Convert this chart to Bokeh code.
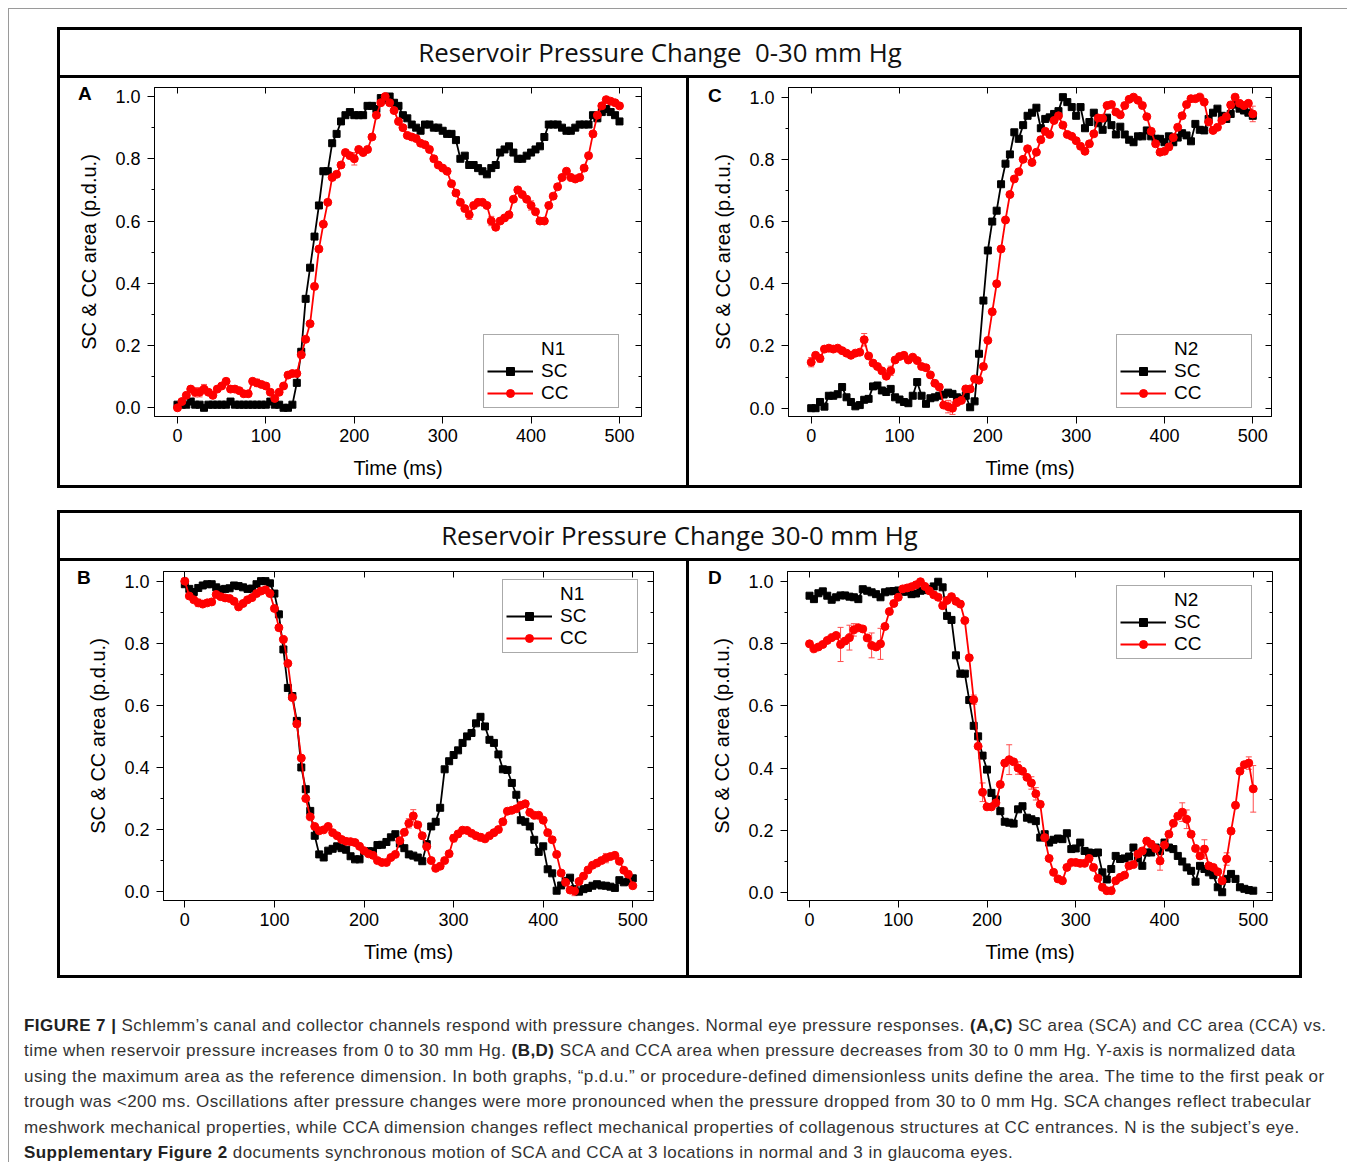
from bokeh.plotting import figure
from bokeh.models import (Range1d, LinearAxis, FixedTicker, PrintfTickFormatter, Legend,
                          LegendItem, Whisker, TeeHead, ColumnDataSource, Div, Spacer)
from bokeh.layouts import row, column
from bokeh.embed import file_html
from bokeh.resources import INLINE

# ---------------- data ----------------
time_ms = list(range(0, 505, 5))
x_ticks = [0, 100, 200, 300, 400, 500]
y_ticks = [0.0, 0.2, 0.4, 0.6, 0.8, 1.0]
y_minor_ticks = [0.1, 0.3, 0.5, 0.7, 0.9]

# Panel A (0-30 mm Hg, N1)
sc_a = [0.01, 0.01, 0.01, 0.02, 0.01, 0.01, 0.0, 0.01, 0.01, 0.01, 0.01, 0.01,
        0.02, 0.01, 0.01, 0.01, 0.01, 0.01, 0.01, 0.01, 0.01, 0.02, 0.01, 0.01, 0.0, 0.0,
        0.01, 0.08, 0.18, 0.35, 0.45, 0.55, 0.65, 0.76, 0.76, 0.85, 0.88, 0.92, 0.94, 0.95,
        0.94, 0.94, 0.94, 0.97, 0.97, 0.96, 0.995, 0.99, 1.0, 0.98, 0.97, 0.94, 0.93, 0.91,
        0.90, 0.89, 0.91, 0.91, 0.90, 0.90, 0.89, 0.88, 0.88, 0.86, 0.80, 0.81, 0.78, 0.78,
        0.77, 0.76, 0.75, 0.77, 0.78, 0.82, 0.83, 0.84, 0.82, 0.80, 0.80, 0.81, 0.82, 0.83,
        0.84, 0.87, 0.91, 0.91, 0.91, 0.90, 0.89, 0.89, 0.90, 0.91, 0.91, 0.91, 0.94, 0.93,
        0.95, 0.96, 0.95, 0.94, 0.92]
cc_a = [0.0, 0.02, 0.04, 0.06, 0.05, 0.05, 0.06, 0.05, 0.04, 0.06, 0.07, 0.085, 0.06,
        0.06, 0.055, 0.045, 0.045, 0.085, 0.08, 0.075, 0.07, 0.05, 0.03, 0.05, 0.07, 0.105,
        0.11, 0.11, 0.17, 0.22, 0.27, 0.39, 0.51, 0.59, 0.66, 0.74, 0.75, 0.78, 0.82, 0.81,
        0.80, 0.83, 0.82, 0.83, 0.87, 0.94, 0.98, 1.0, 0.98, 0.955, 0.92, 0.90, 0.875, 0.87,
        0.865, 0.85, 0.845, 0.83, 0.80, 0.78, 0.77, 0.76, 0.72, 0.69, 0.66, 0.64, 0.62, 0.65,
        0.66, 0.66, 0.65, 0.60, 0.58, 0.60, 0.61, 0.62, 0.67, 0.70, 0.685, 0.67, 0.65, 0.63,
        0.60, 0.60, 0.65, 0.68, 0.71, 0.74, 0.76, 0.74, 0.735, 0.74, 0.77, 0.81, 0.88, 0.94,
        0.97, 0.99, 0.985, 0.98, 0.97]
cc_a_err = {20: 0.015, 25: 0.015, 30: 0.015, 90: 0.012, 200: 0.02, 330: 0.015, 355: 0.015,
            400: 0.015}

# Panel C (0-30 mm Hg, N2)
sc_c = [0.0, 0.0, 0.02, 0.005, 0.04, 0.04, 0.045, 0.068, 0.035, 0.02, 0.006, 0.01, 0.027,
        0.03, 0.07, 0.073, 0.057, 0.052, 0.062, 0.035, 0.028, 0.02, 0.016, 0.04, 0.084, 0.04,
        0.014, 0.032, 0.035, 0.04, 0.044, 0.05, 0.046, 0.035, 0.03, 0.04, 0.003, 0.022, 0.175,
        0.346, 0.507, 0.60, 0.635, 0.72, 0.786, 0.816, 0.887, 0.866, 0.91, 0.94, 0.95, 0.966,
        0.90, 0.93, 0.935, 0.946, 0.955, 1.0, 0.984, 0.968, 0.94, 0.968, 0.90, 0.92, 0.95,
        0.916, 0.895, 0.934, 0.91, 0.88, 0.905, 0.88, 0.863, 0.855, 0.874, 0.874, 0.893,
        0.874, 0.866, 0.866, 0.855, 0.874, 0.855, 0.87, 0.884, 0.877, 0.858, 0.914, 0.895,
        0.893, 0.93, 0.95, 0.963, 0.94, 0.93, 0.946, 0.976, 0.963, 0.957, 0.95, 0.94]
cc_c = [0.148, 0.17, 0.16, 0.19, 0.193, 0.19, 0.193, 0.185, 0.177, 0.17, 0.177, 0.18, 0.22,
        0.168, 0.145, 0.134, 0.12, 0.103, 0.12, 0.155, 0.166, 0.17, 0.155, 0.164, 0.153,
        0.134, 0.13, 0.107, 0.08, 0.068, 0.01, 0.005, 0.0, 0.018, 0.025, 0.062, 0.062, 0.094,
        0.09, 0.134, 0.218, 0.31, 0.40, 0.512, 0.605, 0.687, 0.737, 0.76, 0.80, 0.834, 0.79,
        0.823, 0.863, 0.89, 0.88, 0.925, 0.94, 0.91, 0.88, 0.874, 0.86, 0.842, 0.826, 0.85,
        0.882, 0.933, 0.932, 0.973, 0.976, 0.952, 0.943, 0.973, 0.993, 1.0, 0.99, 0.973,
        0.937, 0.89, 0.85, 0.823, 0.826, 0.84, 0.87, 0.903, 0.94, 0.976, 0.995, 0.995, 1.0,
        0.984, 0.92, 0.893, 0.903, 0.925, 0.937, 0.975, 1.0, 0.98, 0.973, 0.98, 0.946]
cc_c_err = {0: 0.015, 10: 0.012, 60: 0.02, 90: 0.015, 155: 0.02, 160: 0.02, 500: 0.025}

# Panel B (30-0 mm Hg, N1)
sc_b = [0.99, 0.975, 0.965, 0.978, 0.986, 0.99, 0.99, 0.98, 0.973, 0.975, 0.977, 0.986,
        0.984, 0.98, 0.975, 0.976, 0.99, 1.0, 1.0, 0.993, 0.96, 0.893, 0.78, 0.656, 0.63,
        0.55, 0.40, 0.33, 0.26, 0.18, 0.12, 0.11, 0.132, 0.138, 0.146, 0.14, 0.135, 0.114,
        0.104, 0.104, 0.13, 0.13, 0.13, 0.15, 0.151, 0.16, 0.175, 0.185, 0.155, 0.14, 0.12,
        0.116, 0.11, 0.098, 0.153, 0.21, 0.225, 0.27, 0.394, 0.42, 0.44, 0.455, 0.479, 0.50,
        0.511, 0.542, 0.563, 0.532, 0.489, 0.479, 0.442, 0.394, 0.392, 0.35, 0.312, 0.23,
        0.225, 0.21, 0.167, 0.128, 0.146, 0.072, 0.059, 0.003, 0.02, 0.035, 0.045, 0.008,
        0.0, 0.008, 0.012, 0.019, 0.024, 0.02, 0.019, 0.016, 0.012, 0.037, 0.03, 0.033, 0.043]
cc_b = [1.0, 0.952, 0.94, 0.93, 0.926, 0.93, 0.933, 0.957, 0.95, 0.946, 0.944, 0.935,
        0.917, 0.928, 0.94, 0.947, 0.96, 0.968, 0.972, 0.96, 0.912, 0.85, 0.812, 0.735,
        0.625, 0.54, 0.43, 0.30, 0.241, 0.21, 0.196, 0.199, 0.21, 0.19, 0.18, 0.168, 0.162,
        0.161, 0.158, 0.146, 0.132, 0.122, 0.117, 0.10, 0.094, 0.094, 0.11, 0.12, 0.164,
        0.191, 0.22, 0.244, 0.215, 0.18, 0.145, 0.10, 0.075, 0.082, 0.10, 0.122, 0.172,
        0.186, 0.198, 0.197, 0.188, 0.18, 0.175, 0.17, 0.18, 0.19, 0.20, 0.225, 0.259, 0.262,
        0.267, 0.278, 0.283, 0.255, 0.246, 0.246, 0.23, 0.19, 0.167, 0.12, 0.06, 0.03, 0.005,
        0.002, 0.033, 0.05, 0.07, 0.085, 0.092, 0.10, 0.108, 0.113, 0.117, 0.098, 0.069,
        0.056, 0.019]
cc_b_err = {15: 0.012, 250: 0.015, 255: 0.02, 300: 0.012, 330: 0.012, 435: 0.015,
            470: 0.015}

# Panel D (30-0 mm Hg, N2)
sc_d = [0.955, 0.944, 0.963, 0.969, 0.955, 0.942, 0.95, 0.956, 0.956, 0.952, 0.95, 0.944,
        0.976, 0.971, 0.966, 0.96, 0.95, 0.966, 0.969, 0.97, 0.972, 0.968, 0.968, 0.96,
        0.962, 0.971, 0.973, 0.976, 0.985, 1.0, 0.982, 0.89, 0.877, 0.763, 0.704, 0.704,
        0.619, 0.536, 0.502, 0.44, 0.395, 0.32, 0.299, 0.261, 0.227, 0.224, 0.221, 0.267,
        0.277, 0.24, 0.235, 0.229, 0.176, 0.187, 0.16, 0.169, 0.173, 0.171, 0.19, 0.139,
        0.141, 0.16, 0.133, 0.128, 0.126, 0.128, 0.064, 0.041, 0.075, 0.117, 0.107, 0.109,
        0.115, 0.144, 0.109, 0.085, 0.128, 0.128, 0.144, 0.133, 0.16, 0.144, 0.139, 0.117,
        0.099, 0.08, 0.069, 0.034, 0.085, 0.075, 0.064, 0.055, 0.016, 0.0, 0.043, 0.059,
        0.043, 0.016, 0.011, 0.007, 0.005]
cc_d = [0.80, 0.784, 0.79, 0.798, 0.811, 0.82, 0.827, 0.798, 0.809, 0.82, 0.845, 0.852,
        0.848, 0.819, 0.795, 0.79, 0.80, 0.856, 0.904, 0.93, 0.95, 0.977, 0.98, 0.984, 0.99,
        1.0, 0.985, 0.971, 0.958, 0.95, 0.923, 0.94, 0.952, 0.937, 0.928, 0.875, 0.755, 0.62,
        0.47, 0.322, 0.275, 0.275, 0.288, 0.347, 0.416, 0.427, 0.42, 0.40, 0.39, 0.37, 0.352,
        0.317, 0.283, 0.176, 0.109, 0.064, 0.043, 0.037, 0.08, 0.096, 0.096, 0.093, 0.093,
        0.109, 0.08, 0.045, 0.016, 0.005, 0.005, 0.037, 0.048, 0.055, 0.085, 0.089, 0.123,
        0.133, 0.165, 0.155, 0.141, 0.101, 0.152, 0.187, 0.222, 0.245, 0.258, 0.235, 0.187,
        0.141, 0.117, 0.139, 0.085, 0.08, 0.066, 0.037, 0.107, 0.197, 0.28, 0.39, 0.411,
        0.416, 0.333]
cc_d_err = {35: 0.055, 45: 0.04, 50: 0.02, 70: 0.04, 80: 0.05, 185: 0.015, 195: 0.03,
            225: 0.048, 235: 0.02, 250: 0.02, 255: 0.02, 395: 0.03, 420: 0.03, 425: 0.03,
            445: 0.03, 470: 0.02, 495: 0.02, 500: 0.075}

FONT = "Liberation Sans"


def make_panel(subject, sc, cc, cc_err, w, h, mb, xr, yr, legend_loc):
    p = figure(width=w, height=h, x_range=Range1d(*xr), y_range=Range1d(*yr),
               output_backend="svg", toolbar_location=None, margin=0,
               min_border_left=mb[0], min_border_right=mb[1],
               min_border_top=mb[2], min_border_bottom=mb[3])
    p.background_fill_color = "white"
    p.border_fill_color = "white"
    p.outline_line_color = "black"
    p.outline_line_width = 1
    p.xgrid.visible = False
    p.ygrid.visible = False

    xa = p.xaxis[0]
    xa.ticker = FixedTicker(ticks=x_ticks)
    xa.axis_label = "Time (ms)"
    ya = p.yaxis[0]
    ya.ticker = FixedTicker(ticks=y_ticks, minor_ticks=y_minor_ticks)
    ya.formatter = PrintfTickFormatter(format="%.1f")
    ya.axis_label = "SC & CC area (p.d.u.)"
    for ax in (xa, ya):
        ax.axis_line_color = "black"
        ax.major_tick_line_color = "black"
        ax.minor_tick_line_color = "black"
        ax.major_tick_out = 7
        ax.major_tick_in = 0
        ax.minor_tick_out = 3
        ax.minor_tick_in = 0
        ax.major_label_text_font = FONT
        ax.major_label_text_font_size = "18px"
        ax.major_label_text_color = "black"
        ax.axis_label_text_font = FONT
        ax.axis_label_text_font_size = "20px"
        ax.axis_label_text_font_style = "normal"
        ax.axis_label_text_color = "black"
    xa.major_label_standoff = 5
    xa.axis_label_standoff = 12
    xa.minor_tick_line_color = None
    ya.major_label_standoff = 7
    ya.axis_label_standoff = 12

    top = LinearAxis(ticker=FixedTicker(ticks=x_ticks))
    right = LinearAxis(ticker=FixedTicker(ticks=y_ticks, minor_ticks=y_minor_ticks))
    for ax in (top, right):
        ax.major_tick_in = 6
        ax.major_tick_out = 0
        ax.minor_tick_in = 3
        ax.minor_tick_out = 0
        ax.major_label_text_font_size = "1px"
        ax.major_label_text_color = None
        ax.major_label_standoff = 0
        ax.axis_line_color = "black"
    top.minor_tick_line_color = None
    p.add_layout(top, "above")
    p.add_layout(right, "right")

    t_sc = time_ms[:len(sc)]
    t_cc = time_ms[:len(cc)]
    err = [cc_err.get(t, 0.007) for t in t_cc]
    wsrc = ColumnDataSource(dict(t=t_cc, up=[v + e for v, e in zip(cc, err)],
                                 lo=[v - e for v, e in zip(cc, err)]))

    sc_line = p.line(t_sc, sc, line_color="black", line_width=1.8)
    sc_pts = p.scatter(t_sc, sc, marker="square", size=7, fill_color="black",
                       line_color="black")
    p.add_layout(Whisker(source=wsrc, base="t", upper="up", lower="lo",
                         line_color="#ff4d4d", line_width=1,
                         upper_head=TeeHead(size=6, line_color="#ff4d4d", line_width=1),
                         lower_head=TeeHead(size=6, line_color="#ff4d4d", line_width=1)))
    cc_line = p.line(t_cc, cc, line_color="#ff0000", line_width=1.8)
    cc_pts = p.scatter(t_cc, cc, marker="circle", size=8, fill_color="#ff0000",
                       line_color="#ff0000")

    legend = Legend(items=[LegendItem(label=subject, renderers=[]),
                           LegendItem(label="SC", renderers=[sc_line, sc_pts]),
                           LegendItem(label="CC", renderers=[cc_line, cc_pts])],
                    location=legend_loc, orientation="vertical")
    legend.border_line_color = "#555555"
    legend.border_line_width = 1
    legend.background_fill_color = "white"
    legend.background_fill_alpha = 1.0
    legend.padding = 3
    legend.spacing = 0
    legend.margin = 0
    legend.glyph_width = 46
    legend.glyph_height = 20
    legend.label_height = 20
    legend.label_width = 74
    legend.label_standoff = 8
    legend.label_text_font = FONT
    legend.label_text_font_size = "19px"
    legend.label_text_color = "black"
    p.add_layout(legend)
    return p


pA = make_panel("N1", sc_a, cc_a, cc_a_err, 626, 407, (94, 45, 9, 68),
                (-26.0, 524.9), (-0.028, 1.029), (329, 8))
pC = make_panel("N2", sc_c, cc_c, cc_c_err, 610, 407, (99, 28, 9, 69),
                (-25.7, 521.2), (-0.0267, 1.031), (328, 8))
pB = make_panel("N1", sc_b, cc_b, cc_b_err, 626, 414, (103, 33, 10, 70),
                (-23.8, 523.1), (-0.0285, 1.031), (339, 247))
pD = make_panel("N2", sc_d, cc_d, cc_d_err, 610, 414, (98, 27, 8, 75),
                (-24.8, 521.7), (-0.0266, 1.033), (329, 241))


def bar(w, h, color="black", letter=None, lx=0, ly=0):
    text = ""
    styles = {"background-color": color}
    if letter is not None:
        text = ('<div style="position:relative;width:%dpx;height:%dpx;overflow:visible;">'
                '<span style="position:absolute;left:%dpx;top:%dpx;font-family:\'Liberation Sans\';'
                'font-weight:bold;font-size:19px;line-height:19px;color:black;white-space:nowrap;">'
                '%s</span></div>' % (w, h, lx, ly, letter))
        styles.update({"position": "relative", "z-index": "10", "overflow": "visible"})
    return Div(text=text, width=w, height=h, margin=0, styles=styles)


def title_div(text, pad_right):
    html = ('<div style="box-sizing:border-box;width:1239px;height:45px;display:flex;'
            'align-items:center;justify-content:center;padding-right:%dpx;'
            'font-family:\'Open Sans\';font-size:25.8px;color:#111;white-space:pre;">%s</div>'
            % (pad_right, text))
    return Div(text=html, width=1239, height=45, margin=0,
               styles={"background-color": "white"})


def group(title, left, right, h, letters, offsets):
    lb = bar(3, h, letter=letters[0], lx=offsets[0][0], ly=offsets[0][1])
    mb = bar(3, h, letter=letters[1], lx=offsets[1][0], ly=offsets[1][1])
    return column(
        bar(1245, 3),
        row(bar(3, 45), title, bar(3, 45), spacing=0),
        bar(1245, 3),
        row(lb, left, mb, right, bar(3, h), spacing=0),
        bar(1245, 3),
        spacing=0,
    )


top_group = group(title_div("Reservoir Pressure Change&nbsp; 0-30 mm Hg", 39), pA, pC, 407,
                  ("A", "C"), ((21, 6), (22, 8)))
bottom_group = group(title_div("Reservoir Pressure Change 30-0 mm Hg", 0), pB, pD, 414,
                     ("B", "D"), ((20, 7), (22, 7)))

B_ = 'style="color:#222"'
caption_html = (
    '<div style="font-family:\'Liberation Sans\',Arial,sans-serif;font-size:17px;'
    'letter-spacing:0.45px;line-height:25.4px;color:#333;white-space:nowrap;">'
    '<b %s>FIGURE 7 |</b> Schlemm’s canal and collector channels respond with '
    'pressure changes. Normal eye pressure responses. <b %s>(A,C)</b> SC area '
    '(SCA) and CC area (CCA) vs.<br>'
    'time when reservoir pressure increases from 0 to 30 mm Hg. <b %s>(B,D)</b> '
    'SCA and CCA area when pressure decreases from 30 to 0 mm Hg. Y-axis is normalized data<br>'
    'using the maximum area as the reference dimension. In both graphs, “p.d.u.” or '
    'procedure-defined dimensionless units define the area. The time to the first peak or<br>'
    'trough was &lt;200 ms. Oscillations after pressure changes were more pronounced when the '
    'pressure dropped from 30 to 0 mm Hg. SCA changes reflect trabecular<br>'
    'meshwork mechanical properties, while CCA dimension changes reflect mechanical properties '
    'of collagenous structures at CC entrances. N is the subject’s eye.<br>'
    '<b %s>Supplementary Figure 2</b> documents synchronous motion of SCA and '
    'CCA at 3 locations in normal and 3 in glaucoma eyes.</div>') % (B_, B_, B_, B_)
caption = Div(text=caption_html, width=1315, height=149, margin=0,
              styles={"overflow": "hidden"})

content = column(
    Spacer(width=10, height=18, margin=0),
    row(Spacer(width=48, height=10, margin=0), top_group, spacing=0),
    Spacer(width=10, height=22, margin=0),
    row(Spacer(width=48, height=10, margin=0), bottom_group, spacing=0),
    Spacer(width=10, height=35, margin=0),
    row(Spacer(width=15, height=10, margin=0), caption, spacing=0),
    spacing=0,
)

framed = column(bar(1339, 1, "#9a9a9a"), row(bar(1, 1153, "#9a9a9a"), content, spacing=0),
                spacing=0)
page = row(Spacer(width=8, height=10, margin=0),
           column(Spacer(width=10, height=8, margin=0), framed, spacing=0),
           spacing=0)

open("out.html", "w").write(file_html(page, INLINE, title="Figure 7"))
